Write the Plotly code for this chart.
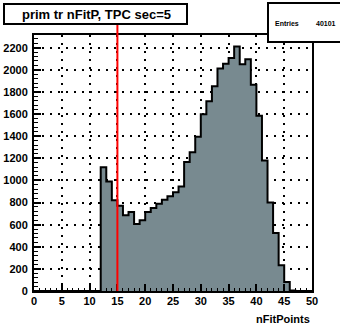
import plotly.graph_objects as go

# Histogram of fit points per primary track, TPC sector 5 (1-unit bins from 0 to 50)
bin_low = list(range(0, 50))
counts = [0] * 12 + [
    1120, 990, 820, 770, 685, 715, 605, 640, 715, 750,
    790, 826, 856, 892, 946, 1166, 1255, 1395, 1598, 1715,
    1851, 2011, 2056, 2107, 2210, 2050, 2096, 1866, 1585, 1180,
    800, 525, 232, 81, 4,
] + [0] * 3
entries = 40101
cut_value = 15
title_text = "prim tr nFitP, TPC sec=5"
x_title = "nFitPoints"
y_ticks = list(range(0, 2201, 200))
x_ticks = list(range(0, 51, 5))

W, H = 340, 332
L, R, T, B = 34, 312, 35, 290.7


def xp(px):
    return (px - L) / (R - L)


def yp(py):
    return (B - py) / (B - T)


font_fam = "Liberation Sans, Arial, sans-serif"

# stepped outline: one point per bin edge, drawn as horizontal-then-vertical steps
step_x = bin_low + [50]
step_y = counts + [counts[-1]]

fig = go.Figure()
fig.add_trace(go.Scatter(
    x=step_x, y=step_y, mode="lines", line_shape="hv",
    line=dict(color="black", width=2),
    fill="tozeroy", fillcolor="#788a90",
    hoverinfo="skip", showlegend=False,
))

axis_common = dict(
    automargin=False,
    showline=True, linecolor="black", linewidth=2, mirror=True,
    ticks="inside", tickcolor="black", tickwidth=1.5,
    showgrid=True, gridcolor="black", gridwidth=1.6, griddash="2px,6px",
    zeroline=False,
    tickfont=dict(family=font_fam, size=11, color="black"),
)

fig.update_xaxes(
    range=[0, 50], tickvals=x_ticks, ticktext=[f"<b>{v}</b>" for v in x_ticks],
    ticklen=7, ticklabelstandoff=-1,
    minor=dict(ticks="inside", dtick=1, ticklen=3.5, tickcolor="black", tickwidth=1.2, showgrid=False),
    **axis_common,
)
fig.update_yaxes(
    range=[0, 2315], tickvals=y_ticks, ticktext=[f"<b>{v}</b>" for v in y_ticks],
    ticklen=7, ticklabelstandoff=2,
    minor=dict(ticks="inside", dtick=40, ticklen=3.5, tickcolor="black", tickwidth=1.2, showgrid=False),
    **axis_common,
)

shapes = [
    # cut line
    dict(type="line", xref="x", yref="paper", x0=cut_value, x1=cut_value,
         y0=0, y1=yp(24), line=dict(color="red", width=2)),
    # title box
    dict(type="rect", xref="paper", yref="paper", x0=xp(4), x1=xp(187),
         y0=yp(24), y1=yp(4), fillcolor="white", line=dict(color="black", width=2)),
    # statistics box
    dict(type="rect", xref="paper", yref="paper", x0=xp(268), x1=xp(342),
         y0=yp(42), y1=yp(3), fillcolor="white", line=dict(color="black", width=2)),
]

annotations = [
    dict(text=f"<b>{title_text}</b>", xref="paper", yref="paper",
         x=xp(96), y=yp(14.5), showarrow=False, xanchor="center", yanchor="middle",
         font=dict(family=font_fam, size=13, color="black")),
    dict(text="<b>Entries</b>", xref="paper", yref="paper",
         x=xp(273), y=yp(24), showarrow=False, xanchor="left", yanchor="middle",
         font=dict(family=font_fam, size=7, color="black")),
    dict(text=f"<b>{entries}</b>", xref="paper", yref="paper",
         x=xp(338), y=yp(24), showarrow=False, xanchor="right", yanchor="middle",
         font=dict(family=font_fam, size=7, color="black")),
    dict(text=f"<b>{x_title}</b>", xref="paper", yref="paper",
         x=xp(312), y=yp(319), showarrow=False, xanchor="right", yanchor="middle",
         font=dict(family=font_fam, size=11, color="black")),
]

fig.update_layout(
    width=W, height=H, autosize=False,
    margin=dict(l=L, r=W - R, t=T, b=H - B),
    paper_bgcolor="white", plot_bgcolor="white",
    shapes=shapes, annotations=annotations,
    showlegend=False,
)

fig.write_html("out.html")
